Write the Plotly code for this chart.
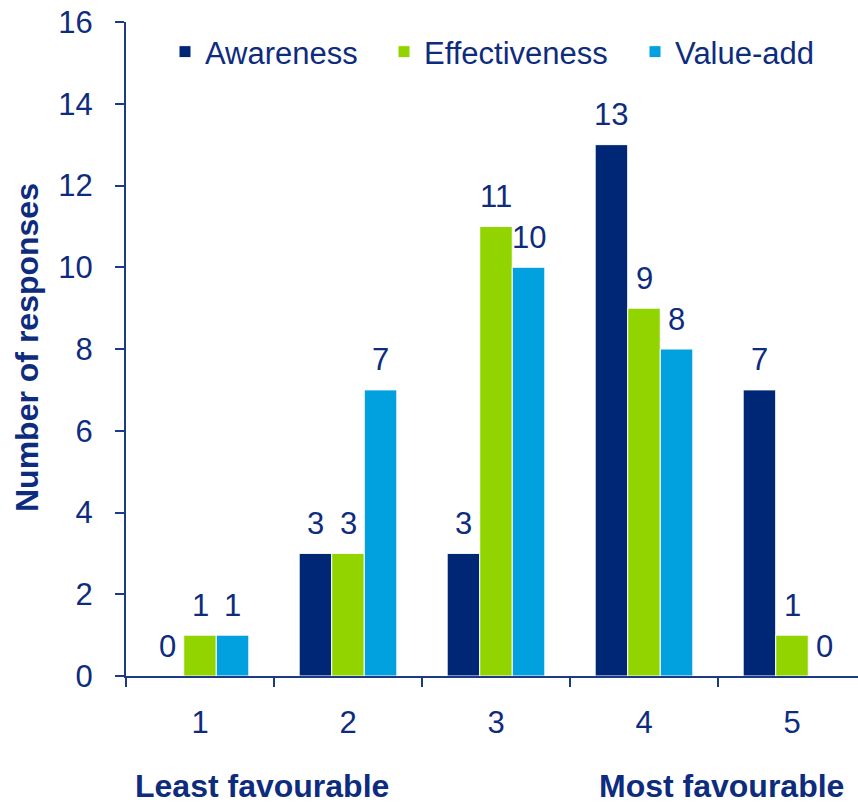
import plotly.graph_objects as go

# Survey responses per rating (1 = least favourable, 5 = most favourable)
categories = ["1", "2", "3", "4", "5"]
awareness = [0, 3, 3, 13, 7]
effectiveness = [1, 3, 11, 9, 1]
value_add = [1, 7, 10, 8, 0]

series_names = ["Awareness", "Effectiveness", "Value-add"]
series_values = [awareness, effectiveness, value_add]
series_colors = ["#002776", "#92D400", "#00A1DE"]

y_ticks = [0, 2, 4, 6, 8, 10, 12, 14, 16]

TEXT = "#0E2C7E"
AXIS = "#1D3A87"
FONT = "Liberation Sans, Arial, sans-serif"
FS = 31
FS_BOLD = 32

W, H = 858, 806
ML, MR, MT, MB = 126, 0, 22, 130
plot_w = W - ML - MR
plot_h = H - MT - MB

BARGAP = 0.34
n_series = len(series_names)
bar_w = (1 - BARGAP) / n_series
cat_px = 148  # pixel width of one rating slot

fig = go.Figure()
legend_ids = ["legend", "legend2", "legend3"]
for i, (name, vals, col) in enumerate(zip(series_names, series_values, series_colors)):
    fig.add_trace(go.Bar(
        name=name, x=categories, y=vals,
        marker=dict(color=col, line=dict(color="white", width=1)),
        legend=legend_ids[i],
    ))

# value labels above each bar
annotations = []
for i, vals in enumerate(series_values):
    off = (i - (n_series - 1) / 2) * bar_w
    for j, v in enumerate(vals):
        annotations.append(dict(
            x=j + off, y=v, xref="x", yref="y", text=str(v),
            showarrow=False, yanchor="middle", yshift=30,
            font=dict(family=FONT, size=FS, color=TEXT),
        ))

def px_to_paper_x(px):
    return (px - ML) / plot_w

def px_to_paper_y(py):
    return (MT + plot_h - py) / plot_h

annotations.append(dict(
    x=px_to_paper_x(27), y=px_to_paper_y(348), xref="paper", yref="paper",
    text="<b>Number of responses</b>", textangle=-90, showarrow=False,
    xanchor="center", yanchor="middle",
    font=dict(family=FONT, size=FS_BOLD, color=TEXT),
))
for label, cx in [("Least favourable", 262), ("Most favourable", 721)]:
    annotations.append(dict(
        x=px_to_paper_x(cx), y=px_to_paper_y(H), xref="paper", yref="paper",
        text=f"<b>{label}</b>", showarrow=False,
        xanchor="center", yanchor="bottom",
        font=dict(family=FONT, size=FS_BOLD, color=TEXT),
    ))

legend_style = dict(
    orientation="h", yanchor="middle", xanchor="left",
    y=px_to_paper_y(52), bgcolor="rgba(0,0,0,0)", borderwidth=0,
    font=dict(family=FONT, size=FS, color=TEXT),
)
legend_x = [165, 384, 635]

fig.update_layout(
    width=W, height=H,
    margin=dict(l=ML, r=MR, t=MT, b=MB, pad=0),
    paper_bgcolor="white", plot_bgcolor="white",
    barmode="group", bargap=BARGAP, bargroupgap=0,
    font=dict(family=FONT, size=FS, color=TEXT),
    showlegend=True,
    legend=dict(legend_style, x=px_to_paper_x(legend_x[0])),
    legend2=dict(legend_style, x=px_to_paper_x(legend_x[1])),
    legend3=dict(legend_style, x=px_to_paper_x(legend_x[2])),
    annotations=annotations,
    xaxis=dict(
        type="category", range=[-0.5, -0.5 + plot_w / cat_px],
        showline=True, linecolor=AXIS, linewidth=2,
        ticks="outside", tickson="boundaries", ticklen=9, tickwidth=2, tickcolor=AXIS,
        ticklabelstandoff=18, showgrid=False, zeroline=False,
        tickfont=dict(family=FONT, size=FS, color=TEXT),
    ),
    yaxis=dict(
        range=[0, 16], tickvals=y_ticks,
        showline=True, linecolor=AXIS, linewidth=2,
        ticks="outside", ticklen=9, tickwidth=2, tickcolor=AXIS,
        ticklabelstandoff=16, showgrid=False, zeroline=False,
        tickfont=dict(family=FONT, size=FS, color=TEXT),
    ),
)

fig.write_html("out.html")
